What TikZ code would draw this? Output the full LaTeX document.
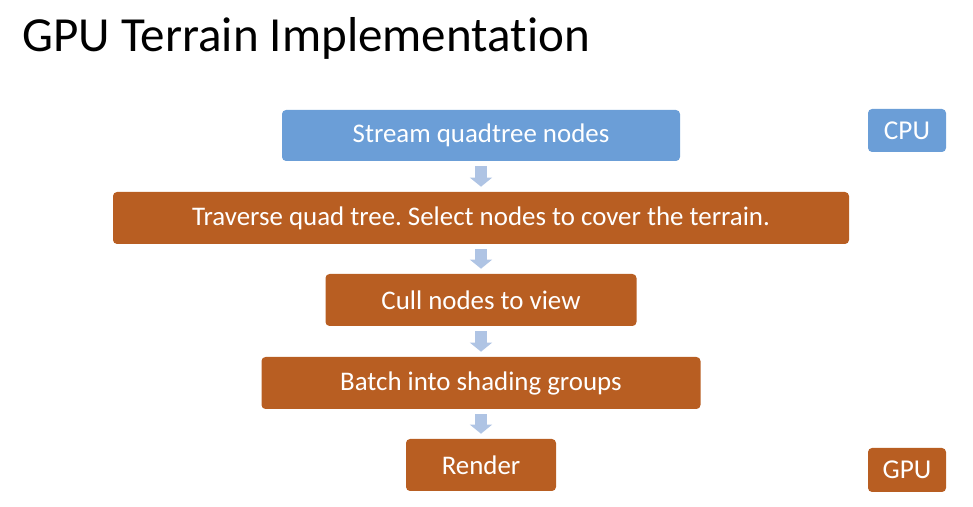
\documentclass[tikz,border=0pt]{standalone}
\usepackage{fontspec}
\setmainfont{Carlito}[Ligatures = NoCommon]
\usepackage{tikz}
\usetikzlibrary{arrows.meta}
\definecolor{boxblue}{RGB}{107,158,215}
\definecolor{boxorange}{RGB}{184,94,34}
\definecolor{arrowblue}{RGB}{175,196,228}
\tikzset{step box/.style = {shape = rectangle, fill = boxorange, text = white, rounded corners = 2.3pt, minimum height = 1.04cm, font = \fontsize{15.3}{18}\selectfont}}
\tikzset{side box/.style = {shape = rectangle, fill = boxblue, text = white, rounded corners = 2.3pt, minimum width = 1.56cm, font = \fontsize{15.5}{18}\selectfont}}
\tikzset{flow/.style = {draw = arrowblue, line width = 6.8pt, -{Triangle[width = 12.5pt, length = 5.2pt]}, shorten < = 2.8pt, shorten > = 2.8pt}}
\frenchspacing

\begin{document}
\begin{tikzpicture}
			\useasboundingbox (0, 0) rectangle (19.46, 10.14);

			\node[anchor = base west, inner sep = 0, font = \fontsize{27.9}{34}\selectfont] (title) at (0.44, 9.1) {GPU Terrain Implementation};

			\node[step box, fill = boxblue, minimum width = 7.96cm, minimum height = 1.02cm] (stream) at (9.62, 7.43) {Stream quadtree nodes};
			\node[step box, minimum width = 14.72cm] (traverse) at (9.62, 5.78) {Traverse quad tree. Select nodes to cover the terrain.};
			\node[step box, minimum width = 6.22cm] (cull) at (9.62, 4.14) {Cull nodes to view};
			\node[step box, minimum width = 8.78cm] (batch) at (9.62, 2.48) {Batch into shading groups};
			\node[step box, minimum width = 3cm] (render) at (9.62, 0.84) {Render};

			\node[side box, minimum height = 0.86cm] (cpu) at (18.14, 7.53) {CPU};
			\node[side box, minimum height = 0.88cm, fill = boxorange] (gpu) at (18.14, 0.74) {GPU};

			\draw[flow] (stream) -- (traverse);
			\draw[flow] (traverse) -- (cull);
			\draw[flow] (cull) -- (batch);
			\draw[flow] (batch) -- (render);
		\end{tikzpicture}
\end{document}
